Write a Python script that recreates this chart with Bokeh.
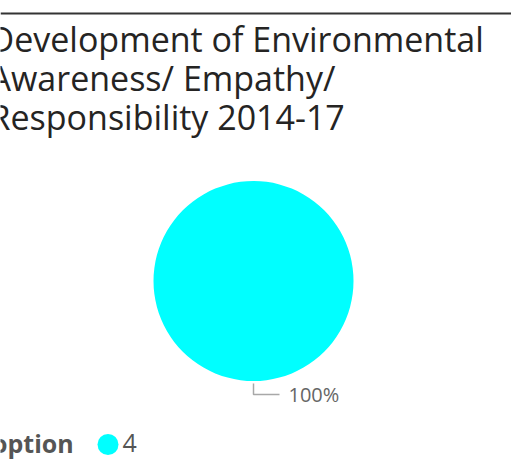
import numpy as np
from bokeh.plotting import figure
from bokeh.models import Range1d, ColumnDataSource
from bokeh.core.properties import value
from bokeh.embed import file_html
from bokeh.resources import INLINE

# ---- data ----
title_lines = ["Development of Environmental", "Awareness/ Empathy/", "Responsibility 2014-17"]
legend_title = "option"
categories = ["4"]
counts = [1]
colors = ["#00FFFF"]

W, H = 511, 466
p = figure(width=W, height=H, output_backend="svg", toolbar_location=None,
           x_range=Range1d(0, W), y_range=Range1d(H, 0), min_border=0)
p.axis.visible = False
p.grid.visible = False
p.outline_line_color = None
p.background_fill_color = "white"
p.border_fill_color = "white"

# top rule
p.segment(x0=[0], y0=[13], x1=[W], y1=[13], line_color="#333333", line_width=2)

# title
p.text(x=[-11] * len(title_lines), y=[38 + 39 * i for i in range(len(title_lines))],
       text=title_lines, text_font=value("Open Sans"), text_font_size="34px",
       text_color="#252423", text_baseline="alphabetic", text_align="left")

# pie
total = float(sum(counts))
frac = np.array(counts) / total
ends = np.cumsum(frac) * 2 * np.pi
starts = ends - frac * 2 * np.pi
src = ColumnDataSource(dict(cat=categories, start=starts + np.pi / 2, end=ends + np.pi / 2 - 1e-4,
                            color=colors, pct=[f"{round(f*100)}%" for f in frac]))
cx, cy, r = 253, 280.5, 100
p.wedge(x=cx, y=cy, radius=r, radius_units="screen", start_angle="start", end_angle="end",
        fill_color="color", line_color=None, source=src)

# leader line + label
p.line(x=[cx, cx, cx + 26], y=[cy + r + 2.5, cy + r + 13.5, cy + r + 13.5],
       line_color="#A8A8A8", line_width=1.5)
p.text(x=[cx + 35], y=[cy + r + 13], text=src.data["pct"], text_font=value("Open Sans"),
       text_font_size="20px", text_color="#666666", text_baseline="alphabetic")

# legend
p.text(x=[-8.5], y=[442], text=[legend_title], text_font=value("Open Sans"), text_font_size="25px",
       text_font_style="bold", text_color="#555555", text_baseline="alphabetic")
p.scatter(x=[107.5], y=[444], size=21, marker="circle", fill_color=colors[0], line_color=None)
p.text(x=[122], y=[442], text=categories, text_font=value("Open Sans"), text_font_size="25px",
       text_color="#555555", text_baseline="alphabetic")

open("out.html", "w").write(file_html(p, INLINE))
